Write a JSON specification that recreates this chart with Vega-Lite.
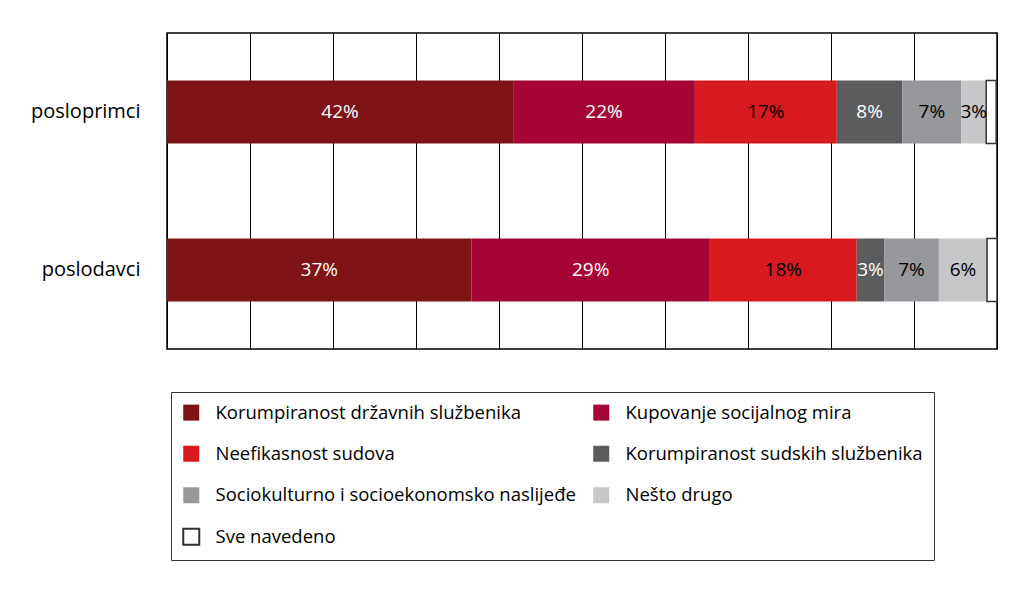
{
  "$schema": "https://vega.github.io/schema/vega-lite/v6.json",
  "width": 830,
  "height": 316,
  "autosize": {"type": "none"},
  "padding": {"left": 167, "top": 33, "right": 20, "bottom": 252},
  "background": "white",
  "config": {
    "view": {"stroke": "black", "strokeWidth": 1.5},
    "font": "Open Sans",
    "legend": {
      "orient": "none",
      "legendX": 4,
      "legendY": 359,
      "columns": 2,
      "direction": "horizontal",
      "gridAlign": "all",
      "columnPadding": 13,
      "rowPadding": 16.5,
      "padding": 11,
      "strokeColor": "#333",
      "labelFontSize": 18.5,
      "labelColor": "black",
      "labelLimit": 500,
      "labelOffset": 15,
      "symbolType": "square",
      "symbolSize": 256,
      "symbolOpacity": 1,
      "symbolStrokeWidth": 2
    }
  },
  "data": {
    "values": [
      {"group": "posloprimci", "k": 1, "cat": "Korumpiranost državnih službenika", "value": 0.417},
      {"group": "posloprimci", "k": 2, "cat": "Kupovanje socijalnog mira", "value": 0.219},
      {"group": "posloprimci", "k": 3, "cat": "Neefikasnost sudova", "value": 0.171},
      {"group": "posloprimci", "k": 4, "cat": "Korumpiranost sudskih službenika", "value": 0.079},
      {"group": "posloprimci", "k": 5, "cat": "Sociokulturno i socioekonomsko naslijeđe", "value": 0.071},
      {"group": "posloprimci", "k": 6, "cat": "Nešto drugo", "value": 0.030},
      {"group": "posloprimci", "k": 7, "cat": "Sve navedeno", "value": 0.012},
      {"group": "poslodavci", "k": 1, "cat": "Korumpiranost državnih službenika", "value": 0.367},
      {"group": "poslodavci", "k": 2, "cat": "Kupovanje socijalnog mira", "value": 0.287},
      {"group": "poslodavci", "k": 3, "cat": "Neefikasnost sudova", "value": 0.177},
      {"group": "poslodavci", "k": 4, "cat": "Korumpiranost sudskih službenika", "value": 0.033},
      {"group": "poslodavci", "k": 5, "cat": "Sociokulturno i socioekonomsko naslijeđe", "value": 0.066},
      {"group": "poslodavci", "k": 6, "cat": "Nešto drugo", "value": 0.058},
      {"group": "poslodavci", "k": 7, "cat": "Sve navedeno", "value": 0.012}
    ]
  },
  "transform": [
    {"stack": "value", "groupby": ["group"], "sort": [{"field": "k", "order": "ascending"}], "as": ["x0", "x1"]},
    {"calculate": "(datum.x0 + datum.x1) / 2", "as": "xm"}
  ],
  "encoding": {
    "y": {
      "field": "group",
      "type": "nominal",
      "sort": ["posloprimci", "poslodavci"],
      "scale": {"paddingInner": 0.6, "paddingOuter": 0.3},
      "axis": {"title": null, "domain": false, "ticks": false, "labelFontSize": 20, "labelColor": "black", "labelPadding": 27}
    }
  },
  "layer": [
    {
      "mark": {"type": "bar", "strokeWidth": 1.5},
      "encoding": {
        "x": {
          "field": "x0",
          "type": "quantitative",
          "scale": {"domain": [0, 1], "nice": false},
          "axis": {"title": null, "labels": false, "ticks": false, "domain": false, "grid": true, "gridColor": "black", "gridOpacity": 1, "gridWidth": 1, "values": [0, 0.1, 0.2, 0.3, 0.4, 0.5, 0.6, 0.7, 0.8, 0.9, 1]}
        },
        "x2": {"field": "x1"},
        "color": {
          "field": "cat",
          "type": "nominal",
          "title": null,
          "scale": {
            "domain": ["Korumpiranost državnih službenika", "Kupovanje socijalnog mira", "Neefikasnost sudova", "Korumpiranost sudskih službenika", "Sociokulturno i socioekonomsko naslijeđe", "Nešto drugo", "Sve navedeno"],
            "range": ["#7e1416", "#a50534", "#d71a20", "#5b5c5e", "#97989b", "#c6c7c9", "#ffffff"]
          }
        },
        "stroke": {
          "field": "cat",
          "type": "nominal",
          "title": null,
          "scale": {
            "domain": ["Korumpiranost državnih službenika", "Kupovanje socijalnog mira", "Neefikasnost sudova", "Korumpiranost sudskih službenika", "Sociokulturno i socioekonomsko naslijeđe", "Nešto drugo", "Sve navedeno"],
            "range": ["transparent", "transparent", "transparent", "transparent", "transparent", "transparent", "#333333"]
          }
        }
      }
    },
    {
      "transform": [{"filter": "datum.cat !== 'Sve navedeno'"}],
      "mark": {"type": "text", "fontSize": 19, "baseline": "middle"},
      "encoding": {
        "x": {"field": "xm", "type": "quantitative"},
        "text": {"field": "value", "type": "quantitative", "format": ".0%"},
        "color": {
          "condition": {"test": "datum.k == 1 || datum.k == 2 || datum.k == 4", "value": "white"},
          "value": "black"
        }
      }
    }
  ]
}
